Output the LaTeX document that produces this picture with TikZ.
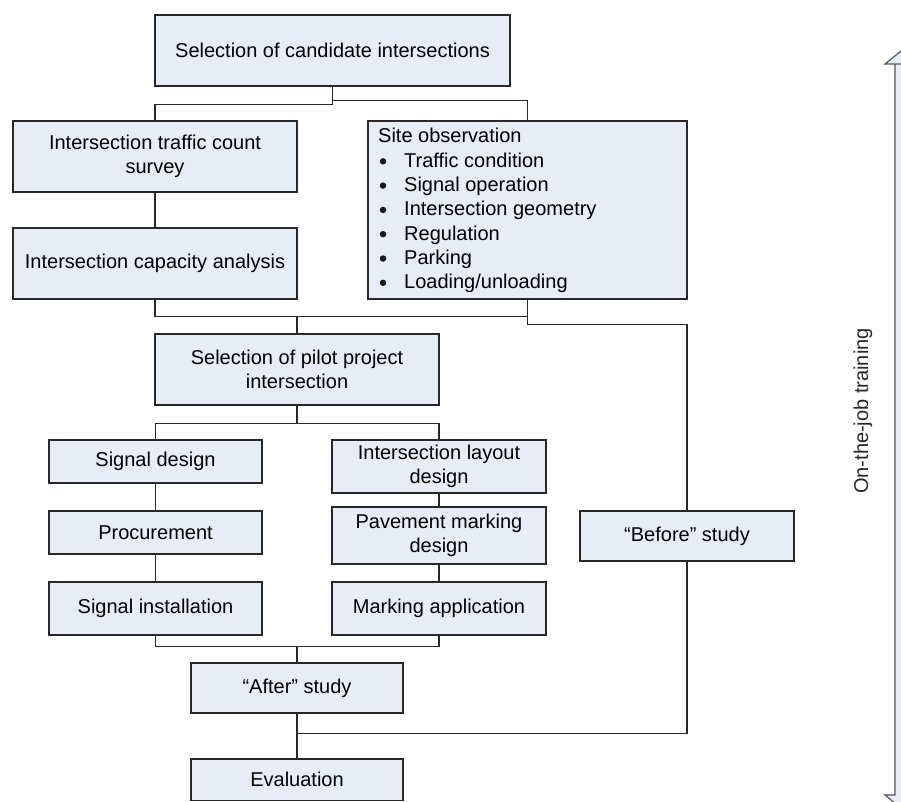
\documentclass[tikz,border=0pt]{standalone}
\usepackage{fontspec}
\setmainfont{Liberation Sans}
\usetikzlibrary{calc}
\definecolor{boxfill}{RGB}{231,237,246}
\definecolor{boxline}{RGB}{40,40,40}
\definecolor{arrowline}{RGB}{85,85,85}
\tikzset{
  box/.style={draw=boxline, fill=boxfill, line width=1.4pt, inner sep=0pt,
    align=center, font=\fontsize{20}{24.3}\selectfont},
  link/.style={draw=boxline, line width=1.4pt},
  itemtext/.style={inner sep=0pt, anchor=base west, font=\fontsize{20}{24.3}\selectfont},
  bulletmark/.style={circle, fill=black!90, inner sep=0pt, minimum size=6.5pt}
}
\begin{document}
\begin{tikzpicture}[x=1pt,y=-1pt]
\useasboundingbox (0,0) rectangle (901,802);

% double-headed side arrow, partly cut by the right edge
\begin{scope}
  \clip (0,0) rectangle (901,802);
  \draw[draw=arrowline, fill=boxfill, line width=1.2pt]
    (930,64) -- (895,64) -- (885,64) -- (917,38) -- (949,64) -- (930,64)
    -- (930,795) -- (949,795) -- (917,821) -- (885,795) -- (895,795) -- (895,64);
\end{scope}
\node[rotate=90, inner sep=0pt, text=black!85, font=\fontsize{20}{24}\selectfont]
  (otj) at (863,411) {On-the-job training};

% boxes
\node[box, minimum width=355pt, minimum height=71pt] (sel) at (332.5,50.5)
  {Selection of candidate intersections};
\node[box, minimum width=284pt, minimum height=71pt] (tcs) at (155,156.5)
  {Intersection traffic count\\survey};
\node[box, minimum width=284pt, minimum height=71pt] (cap) at (155,263.5)
  {Intersection capacity analysis};
\node[box, minimum width=319pt, minimum height=178pt] (site) at (527.5,210) {};
\node[box, minimum width=284pt, minimum height=71pt] (pilot) at (297,369.5)
  {Selection of pilot project\\intersection};
\node[box, minimum width=213pt, minimum height=43pt] (sdes) at (155.5,461.5)
  {Signal design};
\node[box, minimum width=213pt, minimum height=43pt] (proc) at (155.5,532.5)
  {Procurement};
\node[box, minimum width=213pt, minimum height=53pt] (sinst) at (155.5,608.5)
  {Signal installation};
\node[box, minimum width=214pt, minimum height=53pt] (lay) at (439,466.5)
  {Intersection layout\\design};
\node[box, minimum width=214pt, minimum height=57pt] (pav) at (439,535.5)
  {Pavement marking\\design};
\node[box, minimum width=214pt, minimum height=53pt] (mapp) at (439,608.5)
  {Marking application};
\node[box, minimum width=214pt, minimum height=50pt] (before) at (687,536)
  {“Before” study};
\node[box, minimum width=212pt, minimum height=50pt] (after) at (297,688)
  {“After” study};
\node[box, minimum width=212pt, minimum height=41.5pt] (eval) at (297,779.75)
  {Evaluation};

% site observation contents
\node[itemtext] (sitehead) at (378,143) {Site observation};
\foreach \i/\t in {1/{Traffic condition}, 2/{Signal operation}, 3/{Intersection geometry},
                   4/{Regulation}, 5/{Parking}, 6/{Loading/unloading}}{
  \node[bulletmark] (b\i) at (383,137+24.3*\i) {};
  \node[itemtext] (it\i) at (404,143+24.3*\i) {\t};
}

% connectors
\draw[link] (sel.south) -- ++(0,18) -| (tcs.north);
\draw[link] (sel.south) -- ++(0,14) -| (site.north);
\draw[link] (tcs.south) -- (cap.north);
\draw[link] (cap.south) -- ++(0,17) coordinate (capdn) -| (site.south);
\draw[link] (pilot.north) -- (pilot.north |- capdn);
\draw[link] (site.south) -- ++(0,25) -| (before.north);
\draw[link] (pilot.south) -- ++(0,18) coordinate (pdn) -| (sdes.north);
\draw[link] (pdn) -| (lay.north);
\draw[link] (sdes.south) -- (proc.north);
\draw[link] (proc.south) -- (sinst.north);
\draw[link] (lay.south) -- (pav.north);
\draw[link] (pav.south) -- (mapp.north);
\draw[link] (sinst.south) -- ++(0,11) coordinate (sdn) -| (mapp.south);
\draw[link] (after.north) -- (after.north |- sdn);
\coordinate (ja) at ($(after.south)+(0,20)$);
\draw[link] (before.south) |- (ja);
\draw[link] (after.south) -- (eval.north);
\end{tikzpicture}
\end{document}
